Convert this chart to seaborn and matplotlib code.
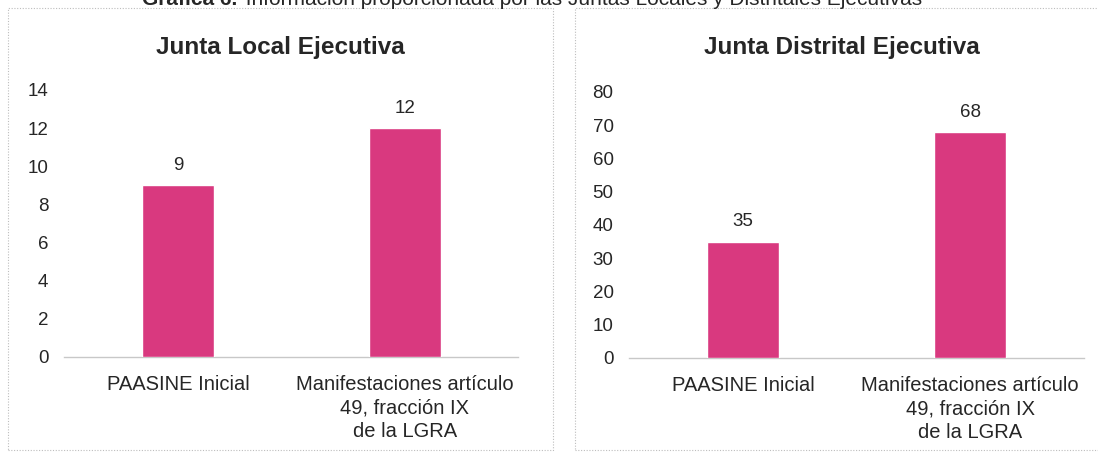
import seaborn as sns
import matplotlib.pyplot as plt
from matplotlib.patches import Rectangle

# data
categories = ['PAASINE Inicial', 'Manifestaciones artículo\n49, fracción IX\nde la LGRA']
local_values = [9, 12]
distrital_values = [35, 68]
local_ticks = [0, 2, 4, 6, 8, 10, 12, 14]
distrital_ticks = [0, 10, 20, 30, 40, 50, 60, 70, 80]

sns.set_style('white')
plt.rcParams['font.family'] = ['Liberation Sans', 'DejaVu Sans']

bar_color = '#D9397F'
text_color = '#262626'

fig = plt.figure(figsize=(10.98, 4.54), dpi=100)

# dotted panel frames
for x0, w in [(8, 545), (575, 530)]:
    fig.patches.append(Rectangle((x0 / 1098, 4 / 454), w / 1098, 442 / 454,
                                 transform=fig.transFigure, fill=False,
                                 edgecolor='#bdbdbd', linestyle=(0, (1, 1.5)), linewidth=0.8))

# figure caption, cut off at the top edge as in the source
fig.text(0.2165, 1.002, 'Gráfica 6.', ha='right', va='center', fontsize=15, fontweight='bold', color=text_color)
fig.text(0.2185, 1.002, ' Información proporcionada por las Juntas Locales y Distritales Ejecutivas',
         ha='left', va='center', fontsize=15, color=text_color)

panels = [
    ([0.0587, 0.2137, 0.4135, 0.5881], local_values, local_ticks, 'Junta Local Ejecutiva', 280),
    ([0.5733, 0.2115, 0.4135, 0.5859], distrital_values, distrital_ticks, 'Junta Distrital Ejecutiva', 842),
]

for rect, values, ticks, title, title_x in panels:
    ax = fig.add_axes(rect)
    sns.barplot(x=categories, y=values, ax=ax, color=bar_color, width=0.32, saturation=1)
    ax.set_xlim(-0.5, 1.5)
    ax.set_ylim(ticks[0], ticks[-1])
    ax.set_yticks(ticks)
    ax.set_yticklabels([str(t) for t in ticks], fontsize=13.5, color=text_color)
    ax.set_xticks(range(len(categories)))
    ax.set_xticklabels(categories, fontsize=14.5, color=text_color, linespacing=1.3)
    ax.tick_params(axis='y', length=0, pad=11.5)
    ax.tick_params(axis='x', length=0, pad=13)
    ax.set_xlabel('')
    ax.set_ylabel('')
    for side in ['left', 'right', 'top']:
        ax.spines[side].set_visible(False)
    ax.spines['bottom'].set_color('#c8c8c8')
    ax.spines['bottom'].set_linewidth(1)
    ax.spines['bottom'].set_zorder(0)
    ax.bar_label(ax.containers[0], labels=[str(v) for v in values], padding=8, fontsize=13.5, color=text_color)
    ax.patch.set_alpha(0)
    fig.text(title_x / 1098, 0.896, title, ha='center', va='center', fontsize=17.5,
             fontweight='bold', color=text_color)

plt.savefig('out.png', dpi=100)
